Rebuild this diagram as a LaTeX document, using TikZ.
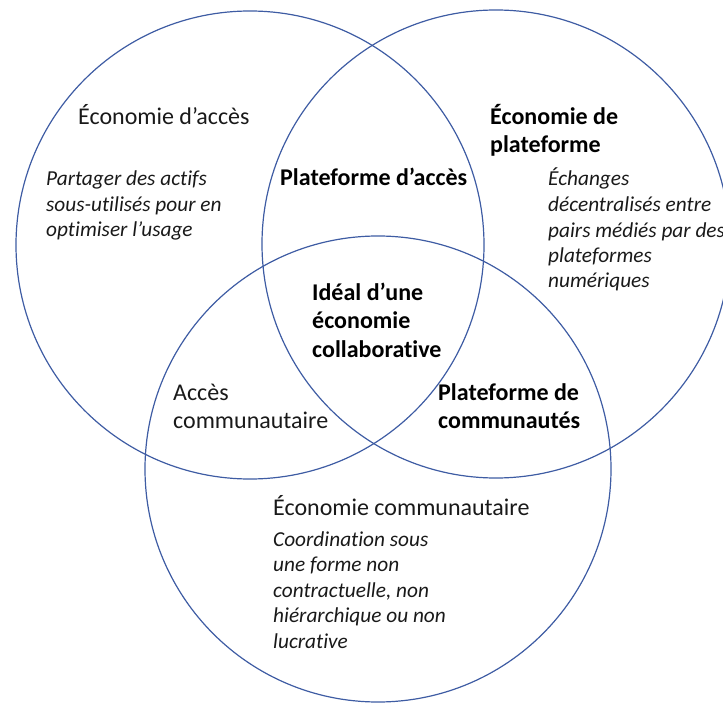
\documentclass[tikz,border=0pt]{standalone}
\usepackage{fontspec}
\setmainfont{Carlito}[Ligatures=NoCommon]
\definecolor{ringblue}{RGB}{62,92,163}
\begin{document}
\begin{tikzpicture}[x=1pt,y=-1pt,
  ring/.style={draw=ringblue,line width=1.2pt},
  reg/.style={anchor=base west,align=left,inner sep=0pt,text=black!90,font=\fontsize{24}{28}\selectfont},
  bld/.style={anchor=base west,align=left,inner sep=0pt,text=black,font=\fontsize{24}{28}\selectfont\bfseries},
  ital/.style={anchor=base west,align=left,inner sep=0pt,text=black!90,font=\fontsize{21.3}{25.5}\selectfont\itshape}]
\useasboundingbox (0,0) rectangle (723,703);
\draw[ring] (250,245) circle[radius=234];
\draw[ring] (496,244) circle[radius=234];
\draw[ring] (378,469) circle[radius=233];
% anchors are at the baseline of the last line of each text
\node[reg] (acces) at (78,125) {Économie d’accès};
\node[ital] (accesdesc) at (46,237) {Partager des actifs\\sous-utilisés pour en\\optimiser l’usage};
\node[bld] (platacces) at (280,186) {Plateforme d’accès};
\node[bld] (plat) at (490,153) {Économie de\\plateforme};
\node[ital] (platdesc) at (548,288) {Échanges\\décentralisés entre\\pairs médiés par des\\plateformes\\numériques};
\node[bld] (ideal) at (312,358) {Idéal d’une\\[1pt]économie\\[1pt]collaborative};
\node[reg] (acom) at (173,428) {Accès\\communautaire};
\node[bld] (pcom) at (438,428) {Plateforme de\\communautés};
\node[reg] (com) at (273,515) {Économie communautaire};
\node[ital] (comdesc) at (273,648) {Coordination sous\\une forme non\\contractuelle, non\\hiérarchique ou non\\lucrative};
\end{tikzpicture}
\end{document}
